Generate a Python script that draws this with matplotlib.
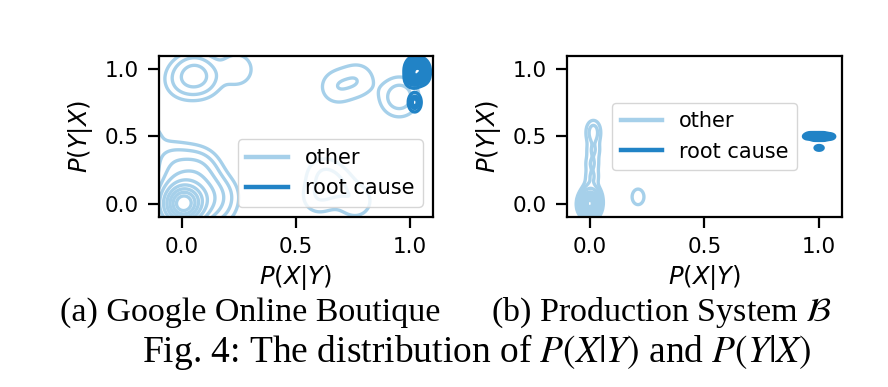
import matplotlib
matplotlib.use("Agg")
import matplotlib.pyplot as plt
import numpy as np

other_a_x = ([0.0]*24 + [0.01]*10 +
             [0.03, -0.02, 0.05, 0.02, 0.07, -0.03, 0.09, 0.04, 0.11, 0.0, 0.13, 0.06, -0.04, 0.15, 0.08, 0.02, 0.17, -0.05, 0.10, 0.04,
              0.03, 0.06, 0.01, 0.05] +
             [0.05, 0.05, 0.06, 0.0, 0.10, 0.24] +
             [0.68, 0.77, 0.95, 0.955, 0.60, 0.68, 0.62, 0.76, -0.16])
other_a_y = ([-0.01]*24 + [0.0]*10 +
             [0.02, 0.05, 0.01, 0.08, 0.04, 0.12, 0.08, 0.14, 0.02, 0.18, 0.10, 0.22, 0.22, -0.04, 0.28, 0.30, 0.06, 0.33, 0.20, -0.06,
              0.03, 0.05, 0.07, -0.02] +
             [0.96, 0.95, 0.97, 0.92, 0.93, 1.00] +
             [0.87, 0.92, 0.78, 0.81, 0.05, 0.14, 0.22, 0.02, 0.49])
root_a_x = [1.00, 1.02, 1.04, 1.06, 1.01, 1.03, 1.05, 1.00, 1.02, 1.04, 1.06, 1.01, 1.03, 1.05, 1.02, 1.02, 1.02]
root_a_y = [0.93, 0.93, 0.94, 0.95, 0.97, 0.97, 0.98, 1.00, 1.01, 1.01, 1.00, 1.03, 1.03, 1.02, 0.95, 0.74, 0.77]

other_b_x = [0.0]*24 + [0.01, -0.01, 0.02, -0.02, 0.0, 0.01, 0.01, 0.015, 0.015, 0.015, 0.21]
other_b_y = [0.0]*24 + [-0.04, 0.03, 0.06, -0.02, 0.10, 0.20, 0.30, 0.40, 0.50, 0.56, 0.05]
root_b_x = [0.95, 0.96, 0.97, 0.98, 0.99, 1.00, 1.01, 1.02, 1.03, 1.04, 1.05, 0.98, 1.00, 1.02, 1.00]
root_b_y = [0.50, 0.51, 0.50, 0.51, 0.50, 0.51, 0.50, 0.51, 0.50, 0.50, 0.50, 0.49, 0.49, 0.49, 0.415]

ticks = [0.0, 0.5, 1.0]
tick_labels = ["0.0", "0.5", "1.0"]
series_labels = ["other", "root cause"]
captions = [r"(a) Google Online Boutique", r"(b) Production System $\mathcal{B}$"]
fig_caption = r"Fig. 4: The distribution of $P(X|Y)$ and $P(Y|X)$"

c_other = "#a6d0ea"
c_root = "#2183c6"

plt.rcParams["font.family"] = ["DejaVu Sans"]
plt.rcParams["mathtext.fontset"] = "dejavusans"


def kde_contour(ax, xs, ys, hx, hy, color, lw, n_levels=10, thresh=0.05):
    xs = np.asarray(xs, float)
    ys = np.asarray(ys, float)
    gx = np.linspace(-0.4, 1.4, 450)
    gy = np.linspace(-0.4, 1.4, 450)
    X, Y = np.meshgrid(gx, gy)
    Z = np.zeros_like(X)
    for px, py in zip(xs, ys):
        Z += np.exp(-0.5 * (((X - px) / hx) ** 2 + ((Y - py) / hy) ** 2))
    Z /= (len(xs) * 2 * np.pi * hx * hy)
    # iso-proportion levels (as seaborn does)
    q = np.linspace(thresh, 1, n_levels)
    vals = np.sort(Z.ravel())[::-1]
    cum = np.cumsum(vals) / vals.sum()
    idx = np.searchsorted(cum, 1 - q)
    levels = np.unique(np.take(vals, idx, mode="clip"))
    ax.contour(X, Y, Z, levels=levels, colors=[color], linewidths=lw)


fig = plt.figure(figsize=(8.88, 3.87), dpi=100)
axA = fig.add_axes([0.179, 0.4393, 0.3086, 0.416])
axB = fig.add_axes([0.6385, 0.4393, 0.3097, 0.416])

lw = 2.4
kde_contour(axA, other_a_x, other_a_y, 0.05, 0.085, c_other, lw)
kde_contour(axA, root_a_x, root_a_y, 0.015, 0.035, c_root, lw)
kde_contour(axB, other_b_x, other_b_y, 0.02, 0.045, c_other, lw)
kde_contour(axB, root_b_x, root_b_y, 0.010, 0.010, c_root, lw)

for ax, loc in ((axA, "lower right"), (axB, "center")):
    ax.set_xlim(-0.1, 1.1)
    ax.set_ylim(-0.1, 1.1)
    ax.set_xticks(ticks)
    ax.set_xticklabels(tick_labels)
    ax.set_yticks(ticks)
    ax.set_yticklabels(tick_labels)
    ax.tick_params(labelsize=15.5, width=1.6, length=7.7, pad=7.0)
    for s in ax.spines.values():
        s.set_linewidth(1.6)
    ax.set_xlabel(r"$P(X|Y)$", fontsize=17.5, labelpad=4)
    ax.set_ylabel(r"$P(Y|X)$", fontsize=17.5, labelpad=7)
    handles = [plt.Line2D([], [], color=c_other, lw=3.2),
               plt.Line2D([], [], color=c_root, lw=3.2)]
    ax.legend(handles, series_labels, loc=loc, fontsize=15)

fig.text(0.282, 0.193, captions[0], family="Liberation Serif", math_fontfamily="stix",
         fontsize=24.5, ha="center", va="center")
fig.text(0.745, 0.193, captions[1], family="Liberation Serif", math_fontfamily="stix",
         fontsize=24.5, ha="center", va="center")
fig.text(0.537, 0.09, fig_caption, family="Liberation Serif", math_fontfamily="stix",
         fontsize=27, ha="center", va="center")

fig.savefig("out.png", dpi=100)
